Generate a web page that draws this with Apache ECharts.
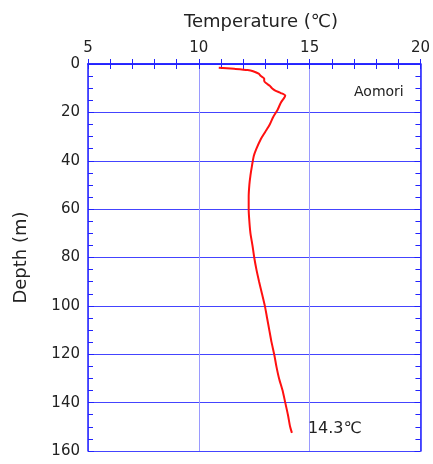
<!DOCTYPE html>
<html><head><meta charset="utf-8">
<script src="https://cdn.jsdelivr.net/npm/echarts@6/dist/echarts.min.js"></script>
<style>html,body{margin:0;padding:0;background:#fff}#c{width:433px;height:464px}</style>
</head><body><div id="c"></div>
<script>
const depths = [1.5, 2, 2.5, 3, 4, 5, 6, 7, 8, 9, 10, 11, 12, 13, 14, 16, 19, 22, 25, 28, 31, 35, 38, 42, 46, 50, 55, 60, 65, 70, 75, 80, 85, 90, 95, 100, 105, 110, 115, 120, 125, 130, 135, 140, 145, 150, 152.5];
const temps = [10.9, 11.6, 12.2, 12.45, 12.7, 12.8, 12.95, 12.95, 13.05, 13.2, 13.3, 13.45, 13.7, 13.9, 13.85, 13.7, 13.55, 13.35, 13.2, 13.0, 12.8, 12.6, 12.48, 12.4, 12.33, 12.28, 12.25, 12.25, 12.28, 12.33, 12.42, 12.5, 12.6, 12.72, 12.85, 12.98, 13.08, 13.18, 13.28, 13.4, 13.5, 13.62, 13.78, 13.9, 14.02, 14.12, 14.2];
const xTicks = [5, 10, 15, 20];
const yTicks = [0, 20, 40, 60, 80, 100, 120, 140, 160];
const endLabel = '14.3℃';
const siteName = 'Aomori';

const blue = '#2222ff';
const font = 'DejaVu Sans';
const chart = echarts.init(document.getElementById('c'));
const pts = depths.map((d, i) => [temps[i], d]);
chart.setOption({
  animation: false,
  textStyle: {fontFamily: font},
  title: [
    {text: 'Temperature (℃)', left: 256, top: 8, textAlign: 'center',
     textStyle: {fontFamily: font, fontSize: 18, fontWeight: 'normal', color: '#222'}},
    {text: siteName, left: 349, top: 80,
     textStyle: {fontFamily: font, fontSize: 14, fontWeight: 'normal', color: '#222'}}
  ],
  grid: {left: 88, top: 64, width: 336, height: 387, containLabel: false},
  xAxis: [
    {type: 'value', position: 'top', min: xTicks[0], max: xTicks[xTicks.length-1], interval: 5,
     axisLine: {show: true, lineStyle: {color: blue, width: 1.5}},
     axisTick: {show: true, inside: true, length: 5, lineStyle: {color: blue}},
     minorTick: {show: true, splitNumber: 5, length: 5, lineStyle: {color: blue}},
     axisLabel: {color: '#222', fontSize: 15, margin: 8, fontFamily: font},
     splitLine: {show: true, lineStyle: {color: '#9a9aff', width: 1}}},
    {type: 'value', position: 'bottom', min: 5, max: 20, interval: 5,
     axisLine: {show: true, lineStyle: {color: blue, width: 1.5}},
     axisTick: {show: true, inside: true, length: 5, lineStyle: {color: blue}},
     minorTick: {show: true, splitNumber: 5, length: 5, lineStyle: {color: blue}},
     axisLabel: {show: false}, splitLine: {show: false}}
  ],
  yAxis: [
    {type: 'value', inverse: true, min: yTicks[0], max: yTicks[yTicks.length-1], interval: 20,
     name: 'Depth (m)', nameLocation: 'middle', nameGap: 58, nameRotate: 90,
     nameTextStyle: {fontSize: 18, color: '#222', fontFamily: font},
     axisLine: {show: true, lineStyle: {color: blue, width: 1.5}},
     axisTick: {show: true, inside: true, length: 6, lineStyle: {color: blue}},
     minorTick: {show: true, splitNumber: 4, length: 5, lineStyle: {color: blue}},
     axisLabel: {color: '#222', fontSize: 15, margin: 8, fontFamily: font},
     splitLine: {show: true, lineStyle: {color: '#4444ff', width: 1}}},
    {type: 'value', inverse: true, min: 0, max: 160, interval: 20, position: 'right',
     axisLine: {show: true, lineStyle: {color: blue, width: 1.5}},
     axisTick: {show: true, inside: true, length: 6, lineStyle: {color: blue}},
     minorTick: {show: true, splitNumber: 4, length: 5, lineStyle: {color: blue}},
     axisLabel: {show: false}, splitLine: {show: false}}
  ],
  series: [{
    type: 'line', data: pts, xAxisIndex: 0, yAxisIndex: 0,
    showSymbol: false, smooth: 0.2,
    lineStyle: {color: '#ff1010', width: 2},
    endLabel: {show: true, formatter: endLabel, color: '#222', fontSize: 16, fontFamily: font, distance: 16, offset: [0, -4]}
  }]
});
</script></body></html>
